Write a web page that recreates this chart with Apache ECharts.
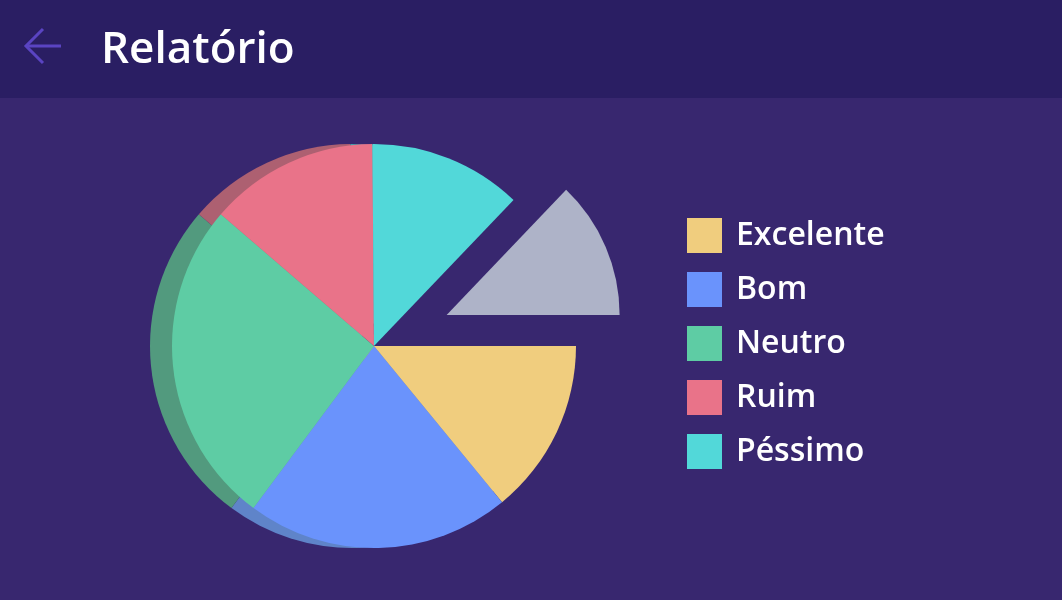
<!DOCTYPE html>
<html>
<head>
<meta charset="utf-8">
<title>Relatório</title>
<script src="https://cdn.jsdelivr.net/npm/echarts@6/dist/echarts.min.js"></script>
<style>
html, body { margin: 0; padding: 0; background: #38276f; }
#chart { width: 1062px; height: 600px; }
</style>
</head>
<body>
<div id="chart"></div>
<script>
// categorias da legenda e percentuais
var categorias = ['Excelente', 'Bom', 'Neutro', 'Ruim', 'Péssimo'];
var valores = [14, 21, 26, 13.5, 12.2];
// fatia cinza destacada (não aparece na legenda)
var destaqueNome = 'Sem resposta';
var destaqueValor = 12.8;

// cores
var transparente = 'rgba(0,0,0,0)';
var cores = ['#f0cd7e', '#6a93fc', '#5ecca4', '#e97389', '#52d8d9'];
// camada de trás: só aparece a borda escura à esquerda
var coresFundo = ['#b39a62', '#5f84c9', '#529a7e', '#ad6071', '#44a3ab'];
var corDestaque = '#aeb3c8';

// monta os dados de uma camada da pizza
function montaDados(coresCat, corDest, destSelecionado) {
  var dados = categorias.map(function (nome, i) {
    return { name: nome, value: valores[i], itemStyle: { color: coresCat ? coresCat[i] : transparente } };
  });
  dados.push({
    name: destaqueNome,
    value: destaqueValor,
    selected: !!destSelecionado,
    itemStyle: { color: corDest || transparente }
  });
  return dados;
}

var baseSerie = {
  type: 'pie',
  startAngle: 0,
  clockwise: true,
  silent: true,
  label: { show: false },
  labelLine: { show: false },
  emphasis: { disabled: true },
  itemStyle: { borderWidth: 0 }
};

var myChart = echarts.init(document.getElementById('chart'));
myChart.setOption({
  animation: false,
  backgroundColor: '#38276f',
  graphic: [
    { type: 'rect', shape: { x: 0, y: 0, width: 1062, height: 98 }, style: { fill: '#2a1e63' } },
    { type: 'polyline', shape: { points: [[43, 29], [26, 46], [43, 63]] }, style: { stroke: '#5a44c2', lineWidth: 3, fill: null } },
    { type: 'line', shape: { x1: 26, y1: 46, x2: 61, y2: 46 }, style: { stroke: '#5a44c2', lineWidth: 3 } },
    {
      type: 'text', x: 101, y: 50,
      style: { text: 'Relatório', fill: '#ffffff', font: '600 44px "Open Sans"', verticalAlign: 'middle' }
    }
  ],
  legend: {
    orient: 'vertical',
    left: 682,
    top: 213,
    icon: 'rect',
    itemWidth: 35,
    itemHeight: 35,
    itemGap: 19,
    selectedMode: false,
    textStyle: { color: '#ffffff', fontSize: 32, fontWeight: 600, fontFamily: 'Open Sans', padding: [0, 0, 0, 9] },
    data: categorias.map(function (nome, i) {
      return { name: nome, itemStyle: { color: cores[i] } };
    })
  },
  series: [
    // camada de trás deslocada para a esquerda (efeito 3D)
    Object.assign({}, baseSerie, {
      name: 'fundo', center: [352, 346], radius: 202, z: 1,
      data: montaDados(coresFundo, null, false)
    }),
    // camada da frente
    Object.assign({}, baseSerie, {
      name: 'frente', center: [374, 346], radius: 202, z: 2,
      data: montaDados(cores, null, false)
    }),
    // fatia cinza deslocada
    Object.assign({}, baseSerie, {
      name: 'destaque', center: [374, 346], radius: 173, z: 3,
      selectedMode: 'single', selectedOffset: 79,
      data: montaDados(null, corDestaque, true)
    })
  ]
});
</script>
</body>
</html>
